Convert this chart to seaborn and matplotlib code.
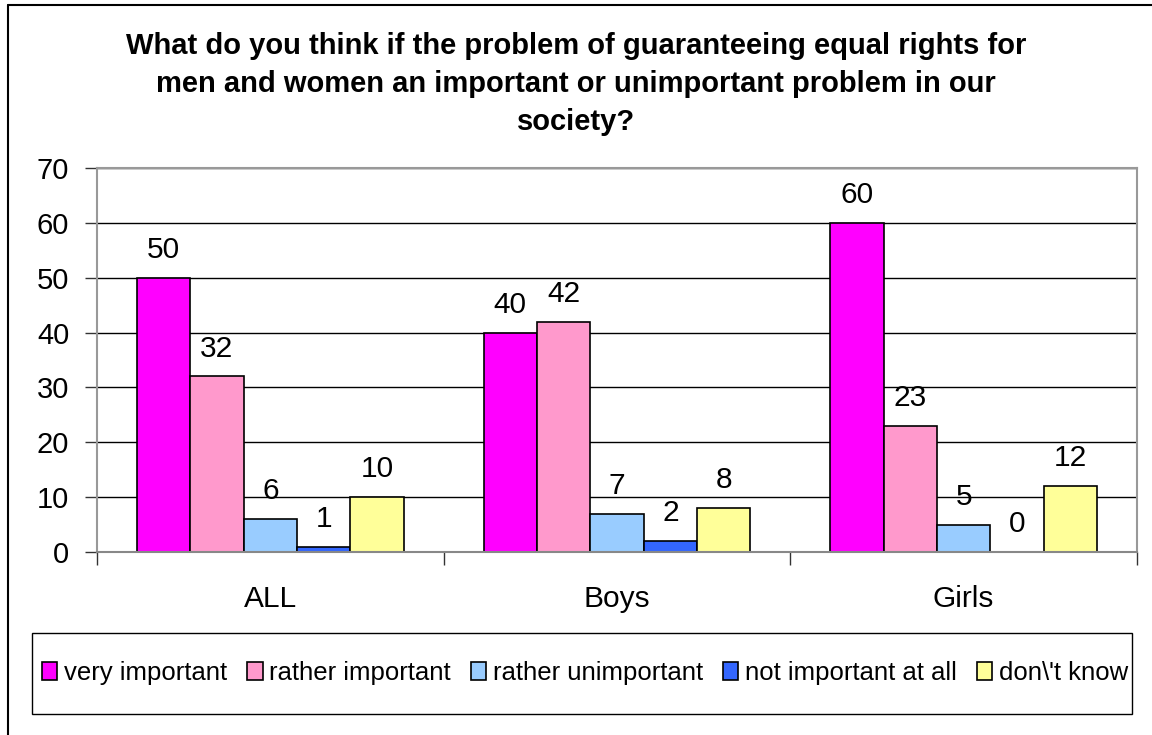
import numpy as np
import pandas as pd
import matplotlib
matplotlib.use("Agg")
import matplotlib.pyplot as plt
import seaborn as sns
from matplotlib.lines import Line2D
from matplotlib.patches import Rectangle

groups = ["ALL", "Boys", "Girls"]
answers = ["very important", "rather important", "rather unimportant",
           "not important at all", "don\\'t know"]
very_important = [50, 40, 60]
rather_important = [32, 42, 23]
rather_unimportant = [6, 7, 5]
not_important = [1, 2, 0]
dont_know = [10, 8, 12]
colors = ["#FF00FF", "#FF99CC", "#99CCFF", "#3366FF", "#FFFF99"]

title = ("What do you think if the problem of guaranteeing equal rights for\n"
         "men and women an important or unimportant problem in our\nsociety?")

rows = []
for ans, vals in zip(answers, [very_important, rather_important, rather_unimportant,
                                not_important, dont_know]):
    for g, v in zip(groups, vals):
        rows.append({"group": g, "answer": ans, "value": v})
df = pd.DataFrame(rows)

sns.set_style("white")
plt.rcParams['font.family'] = ['Liberation Sans', 'DejaVu Sans']
plt.rcParams['text.color'] = "black"
plt.rcParams['xtick.color'] = "black"
plt.rcParams['ytick.color'] = "black"

fig = plt.figure(figsize=(11.52, 7.35), dpi=100)
ax = fig.add_axes([97/1152, 1 - 552/735, 1040/1152, 384/735])

sns.barplot(data=df, x="group", y="value", hue="answer", order=groups,
            hue_order=answers, palette=colors, saturation=1, width=0.77,
            edgecolor="black", linewidth=1.2, ax=ax, legend=False)

for c in ax.containers:
    ax.bar_label(c, padding=10, fontsize=21.5, color="black")

ax.set_ylim(0, 70)
ax.set_xlim(-0.5, 2.5)
ax.set_yticks(range(0, 71, 10))
ax.yaxis.grid(True, color="black", linewidth=1)
ax.set_axisbelow(True)
ax.set_xlabel("")
ax.set_ylabel("")
ax.tick_params(axis="y", labelsize=21, length=9, width=1, color="#333333",
               direction="out", left=True, pad=11)
ax.tick_params(axis="x", labelsize=21.5, length=0, pad=24)
ax.set_xticks([-0.5, 0.5, 1.5, 2.5], minor=True)
ax.tick_params(axis="x", which="minor", length=9, width=1, color="#333333", bottom=True)
for s in ax.spines.values():
    s.set_visible(True)
    s.set_color("#999999")
    s.set_linewidth(1.5)
ax.spines["bottom"].set_color("#888888")

fig.text(0.5, 1 - 84/735, title, ha="center", va="center", fontsize=21,
         fontweight="bold", linespacing=1.45)

# legend frame drawn separately so its size matches the box
fig.add_artist(Rectangle((32/1152, 1 - 714/735), 1100/1152, 81/735,
                         transform=fig.transFigure, facecolor="none",
                         edgecolor="black", linewidth=1))
handles = [plt.Rectangle((0, 0), 1, 1, facecolor=c, edgecolor="black", linewidth=1.2)
           for c in colors]
fig.legend(handles, answers, loc="center left", ncol=5, mode="expand",
           bbox_to_anchor=(42/1152, 1 - 686/735, 1086/1152, 26/735),
           fontsize=18.5, frameon=False, handlelength=0.6, handleheight=0.75,
           handletextpad=0.25, columnspacing=0.5, borderaxespad=0, borderpad=0)

fig.add_artist(Line2D([8/1152, 1], [1 - 5/735, 1 - 5/735], color="black", linewidth=1.5))
fig.add_artist(Line2D([8/1152, 8/1152], [0, 1 - 5/735], color="black", linewidth=1.5))

fig.savefig("out.png", dpi=100, facecolor="white")
